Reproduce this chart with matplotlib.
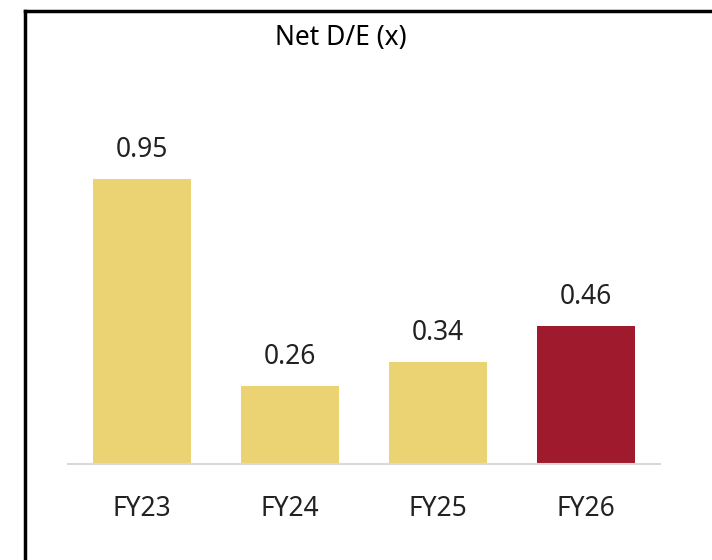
import matplotlib.pyplot as plt
from matplotlib.lines import Line2D

categories = ["FY23", "FY24", "FY25", "FY26"]
values = [0.95, 0.26, 0.34, 0.46]
bar_colors = ["#EBD374", "#EBD374", "#EBD374", "#9E1A2C"]
title = "Net D/E (x)"

plt.rcParams["font.family"] = ["Noto Sans", "DejaVu Sans"]

W, H = 712, 560
fig = plt.figure(figsize=(W / 100, H / 100), dpi=100)
ax = fig.add_axes([68 / W, (H - 464) / H, 591.5 / W, 360 / H])

x = range(len(categories))
bars = ax.bar(x, values, width=0.662, color=bar_colors, zorder=2)
ax.set_xlim(-0.5, 3.5)
ax.set_ylim(0, 1.2)

for bar, v in zip(bars, values):
    ax.annotate(f"{v:.2f}", (bar.get_x() + bar.get_width() / 2, v),
                xytext=(0, 11), textcoords="offset points",
                ha="center", va="bottom", fontsize=19, color="#222222")

for s in ["top", "right", "left"]:
    ax.spines[s].set_visible(False)
ax.spines["bottom"].set_color("#d9d9d9")
ax.spines["bottom"].set_linewidth(1.5)
ax.set_yticks([])
ax.set_xticks(list(x))
ax.set_xticklabels(categories, fontsize=19, color="#222222")
ax.tick_params(axis="x", length=0, pad=22)

fig.text(341 / W, 1 - 38 / H, title, ha="center", va="center", fontsize=19, color="#000000")

# frame lines (left and top)
fig.add_artist(Line2D([24.5 / W, 24.5 / W], [0, 1 - 10.5 / H], color="black", lw=2.5,
                      transform=fig.transFigure))
fig.add_artist(Line2D([24.5 / W, 1], [1 - 10.5 / H, 1 - 10.5 / H], color="black", lw=2.5,
                      transform=fig.transFigure))

fig.savefig("out.png", dpi=100)
